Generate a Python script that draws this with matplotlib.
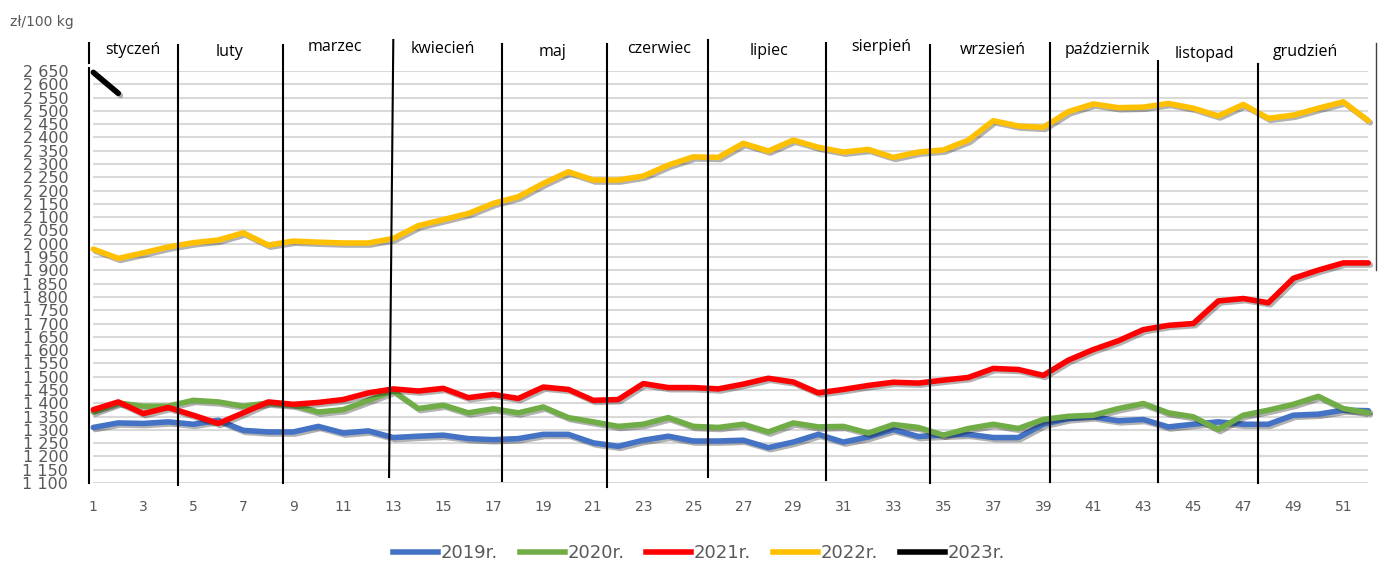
import numpy as np
import matplotlib
matplotlib.use('Agg')
import matplotlib.pyplot as plt
from matplotlib import patheffects as pe
from matplotlib.lines import Line2D
from matplotlib.transforms import blended_transform_factory

# ---------------- data ----------------
weeks = list(range(1, 53))
y2019 = [1309, 1326, 1324, 1330, 1321, 1336, 1298, 1292, 1292, 1313,
         1288, 1296, 1271, 1276, 1280, 1267, 1263, 1267, 1283, 1283,
         1251, 1238, 1261, 1276, 1258, 1258, 1261, 1233, 1254, 1283,
         1254, 1273, 1301, 1275, 1280, 1283, 1271, 1271, 1321, 1342,
         1349, 1334, 1339, 1311, 1321, 1330, 1321, 1321, 1355, 1359,
         1374, 1372]
y2020 = [1367, 1401, 1389, 1389, 1411, 1405, 1389, 1401, 1393, 1367,
         1376, 1411, 1446, 1380, 1393, 1364, 1379, 1364, 1386, 1346,
         1330, 1313, 1321, 1346, 1313, 1309, 1321, 1292, 1326, 1311,
         1313, 1288, 1320, 1309, 1280, 1305, 1321, 1305, 1339, 1351,
         1355, 1380, 1399, 1364, 1349, 1301, 1355, 1374, 1396, 1426,
         1380, 1364]
y2021 = [1376, 1405, 1361, 1384, 1355, 1324, 1364, 1405, 1396, 1403,
         1414, 1439, 1454, 1446, 1456, 1421, 1433, 1418, 1461, 1452,
         1411, 1414, 1474, 1459, 1459, 1454, 1472, 1494, 1480, 1439,
         1452, 1467, 1479, 1476, 1487, 1497, 1531, 1527, 1505, 1562,
         1602, 1635, 1677, 1693, 1700, 1785, 1794, 1778, 1870, 1901,
         1928, 1928]
y2022 = [1980, 1945, 1966, 1988, 2004, 2014, 2041, 1995, 2010, 2006,
         2003, 2003, 2020, 2068, 2091, 2114, 2152, 2177, 2227, 2271,
         2240, 2240, 2255, 2296, 2327, 2325, 2378, 2349, 2390, 2363,
         2345, 2355, 2325, 2345, 2353, 2390, 2463, 2443, 2438, 2497,
         2526, 2512, 2514, 2528, 2510, 2481, 2524, 2472, 2484, 2510,
         2534, 2463]
y2023 = [2645, 2566] + [np.nan] * 50

series_labels = ['2019r.', '2020r.', '2021r.', '2022r.', '2023r.']
months = ['styczeń', 'luty', 'marzec', 'kwiecień', 'maj', 'czerwiec',
          'lipiec', 'sierpień', 'wrzesień', 'październik', 'listopad', 'grudzień']
y_ticks = list(range(1100, 2651, 50))
x_ticks = list(range(1, 53, 2))
unit_label = 'zł/100 kg'

# ---------------- layout / style ----------------
colors = ['#4472C4', '#70AD47', '#FF0000', '#FFC000', '#000000']
W, H = 1378, 564
fig = plt.figure(figsize=(W / 100, H / 100), dpi=100)
ax = fig.add_axes([93.3 / W, 1 - 483 / H, 1275 / W, 412 / H])
ax.set_xlim(1, 52)
ax.set_ylim(1100, 2650)
for s in ax.spines.values():
    s.set_visible(False)

ax.set_yticks(y_ticks)
ax.set_yticklabels([f"{v:,}".replace(',', ' ') for v in y_ticks])
ax.set_xticks(x_ticks)
ax.tick_params(axis='y', length=0, pad=18, labelsize=11.5, labelcolor='#595959')
ax.tick_params(axis='x', length=0, pad=12, labelsize=10, labelcolor='#595959')
ax.yaxis.grid(True, color='#d9d9d9', lw=1.5)
ax.xaxis.grid(False)
ax.set_axisbelow(True)

shadow = [pe.SimpleLineShadow(offset=(1.5, -1.5), shadow_color='black', alpha=0.3),
          pe.Normal()]
series = [y2019, y2020, y2021, y2022, y2023]
for ys, c, lab in zip(series, colors, series_labels):
    ax.plot(weeks, ys, color=c, lw=4, solid_joinstyle='round',
            solid_capstyle='round', path_effects=shadow, label=lab, zorder=3,
            clip_on=False)

# hand-drawn month separators (x in week units, y in pixels)
tr = blended_transform_factory(ax.transData, ax.transAxes)
def fy(px):
    return (483 - px) / 412

dividers = [
    (0.83, 0.83, 43, 63), (0.83, 0.83, 68, 483),
    (4.39, 4.39, 45, 485), (8.59, 8.59, 45, 483), (13.0, 12.83, 40, 477),
    (17.35, 17.35, 44, 481), (21.55, 21.55, 44, 487), (25.59, 25.59, 40, 477),
    (30.31, 30.31, 43, 480), (34.47, 34.47, 45, 483), (39.27, 39.27, 43, 482),
    (43.59, 43.59, 61, 482), (47.59, 47.59, 64, 483),
]
for xt, xb, yt, yb in dividers:
    ax.plot([xt, xb], [fy(yt), fy(yb)], transform=tr, color='black', lw=1.5,
            clip_on=False, zorder=5)

month_pos = [(2.59, 50), (6.43, 52), (10.67, 47), (14.97, 49), (19.38, 52),
             (23.63, 49), (28.03, 51), (32.5, 47), (36.97, 50), (41.57, 50),
             (45.43, 54), (49.47, 52)]
for m, (xm, ym) in zip(months, month_pos):
    ax.text(xm, fy(ym), m, transform=tr, ha='center', va='center',
            fontsize=11.5, family=['Open Sans', 'DejaVu Sans'], color='black')

fig.text(10 / W, 1 - 22 / H, unit_label, fontsize=10, color='#595959', va='center')

# right border
fig.add_artist(Line2D([1376 / W] * 2, [1 - 43 / H, 1 - 270 / H], color='#404040', lw=1))

handles = [Line2D([], [], color=c, lw=4) for c in colors]
fig.legend(handles, series_labels, loc='center', bbox_to_anchor=(699 / W, 1 - 553 / H),
           ncol=5, frameon=False, fontsize=13, handlelength=2.5, handletextpad=0.15,
           columnspacing=1.2, labelcolor='#595959', borderaxespad=0, borderpad=0)

fig.savefig('out.png', dpi=100)
